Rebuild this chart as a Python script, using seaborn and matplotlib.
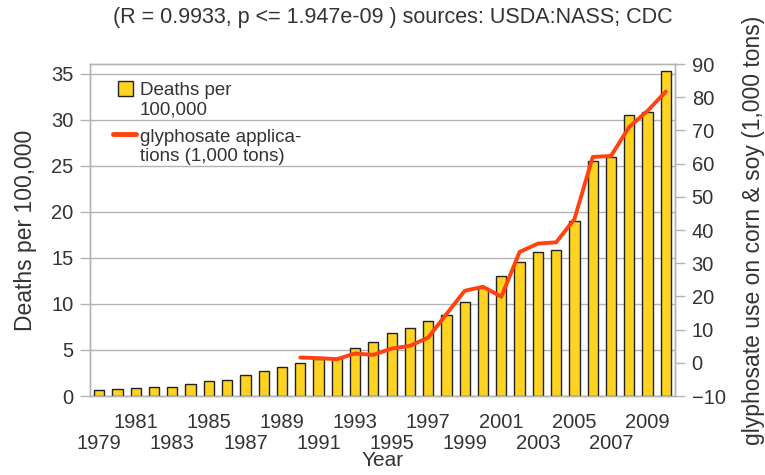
import numpy as np
import pandas as pd
import matplotlib
matplotlib.use("Agg")
import matplotlib.pyplot as plt
import seaborn as sns
from matplotlib.lines import Line2D
from matplotlib.patches import Rectangle

years = list(range(1979, 2011))
deaths = [0.6, 0.75, 0.9, 1.0, 1.0, 1.3, 1.6, 1.75, 2.3, 2.75, 3.2, 3.6,
          4.0, 4.1, 5.2, 5.9, 6.8, 7.4, 8.1, 8.8, 10.25, 11.7, 13.0, 14.5,
          15.65, 15.9, 19.0, 25.5, 25.9, 30.5, 30.8, 35.25]
gly_years = list(range(1990, 2011))
glyphosate = [1.6, 1.4, 1.1, 2.8, 2.4, 4.3, 5.1, 7.6, 14.7, 21.7, 22.9,
              19.9, 33.4, 35.9, 36.3, 43.3, 62.0, 62.3, 71.1, 75.9, 81.7]

title_text = "(R = 0.9933, p <= 1.947e-09 ) sources: USDA:NASS; CDC"
left_label = "Deaths per 100,000"
right_label = "glyphosate use on corn & soy (1,000 tons)"
x_label = "Year"
legend_labels = ["Deaths per\n100,000", "glyphosate applica-\ntions (1,000 tons)"]

BAR = "#ffd320"
LINE = "#ff420e"
TXT = "#333333"
GRID = "#b3b3b3"
EDGE = "#222222"

sns.set_theme(style="white")
plt.rcParams["font.family"] = ["Liberation Sans", "DejaVu Sans"]
plt.rcParams["text.color"] = TXT
plt.rcParams["axes.labelcolor"] = TXT
plt.rcParams["xtick.color"] = TXT
plt.rcParams["ytick.color"] = TXT

df = pd.DataFrame({"year": [str(y) for y in years], "deaths": deaths})
gdf = pd.DataFrame({"pos": [years.index(y) for y in gly_years], "gly": glyphosate})

W, H = 765, 475
fig = plt.figure(figsize=(W / 100, H / 100), dpi=100)
ax = fig.add_axes([90 / W, 1 - 396 / H, 585 / W, 332 / H])

sns.barplot(data=df, x="year", y="deaths", color=BAR, saturation=1,
            width=0.56, edgecolor=EDGE, linewidth=1.0, ax=ax, zorder=3)
ax.set_ylim(0, 36.05)
ax.set_xlim(-0.5, len(years) - 0.5)
ax.set_yticks(np.arange(0, 36, 5))
ax.yaxis.grid(True, color=GRID, linewidth=1.0, zorder=0)
ax.set_axisbelow(True)

# staggered year labels: upper row on the main axis, lower row on a secondary axis
top_pos = [i for i in range(len(years)) if i % 4 == 2]
bot_pos = [i for i in range(len(years)) if i % 4 == 0]
ax.set_xticks(top_pos)
ax.set_xticklabels([str(years[i]) for i in top_pos], fontsize=14.5)
ax.set_xticks(np.arange(-0.5, len(years), 1.0), minor=True)
ax.tick_params(axis="x", which="major", length=0, pad=12)
ax.tick_params(axis="x", which="minor", length=6, color=GRID, width=1)
ax.tick_params(axis="y", which="major", length=7, color=GRID, width=1,
               labelsize=14.5, pad=5, left=True)
ax.set_xlabel("")
ax.set_ylabel(left_label, fontsize=16.5, labelpad=10)
for s in ax.spines.values():
    s.set_color(GRID)
    s.set_linewidth(1.0)

sec = ax.secondary_xaxis("bottom")
sec.set_xticks(bot_pos)
sec.set_xticklabels([str(years[i]) for i in bot_pos], fontsize=14.5)
sec.tick_params(axis="x", length=0, pad=27.5)
sec.spines["bottom"].set_visible(False)
sec.set_xlabel(x_label, fontsize=15, labelpad=-1.5)

ax2 = ax.twinx()
sns.lineplot(data=gdf, x="pos", y="gly", color=LINE, linewidth=2.8, ax=ax2,
             zorder=4)
ax2.set_ylim(-10, 90)
ax2.set_xlim(-0.5, len(years) - 0.5)
ax2.set_yticks(np.arange(-10, 91, 10))
ax2.tick_params(axis="y", which="major", length=7, color=GRID, width=1,
                labelsize=14.5, pad=5, right=True)
ax2.set_ylabel(right_label, fontsize=16.5, labelpad=12)
ax2.set_xlabel("")
for s in ax2.spines.values():
    s.set_color(GRID)
    s.set_linewidth(1.0)

# legend drawn manually so the key sits beside the first line of each label
def fx(px):
    return px / W

def fy(py):
    return 1 - py / H

fig.patches.append(Rectangle((fx(118), fy(96)), 15 / W, 15 / H,
                             transform=fig.transFigure, facecolor=BAR,
                             edgecolor=EDGE, linewidth=1.0, zorder=10))
fig.lines.append(Line2D([fx(113), fx(136)], [fy(133.5), fy(133.5)],
                        transform=fig.transFigure, color=LINE, linewidth=3.5,
                        zorder=10))
fig.text(fx(140), fy(100), legend_labels[0], ha="left", va="center",
         fontsize=13.5, linespacing=1.17, color=TXT, zorder=11)
fig.text(fx(140), fy(147), legend_labels[1], ha="left", va="center",
         fontsize=13.5, linespacing=1.17, color=TXT, zorder=11)

fig.text(0.514, 1 - 17 / H, title_text, ha="center", va="center",
         fontsize=15.5, color=TXT)

fig.savefig("out.png", dpi=100)
